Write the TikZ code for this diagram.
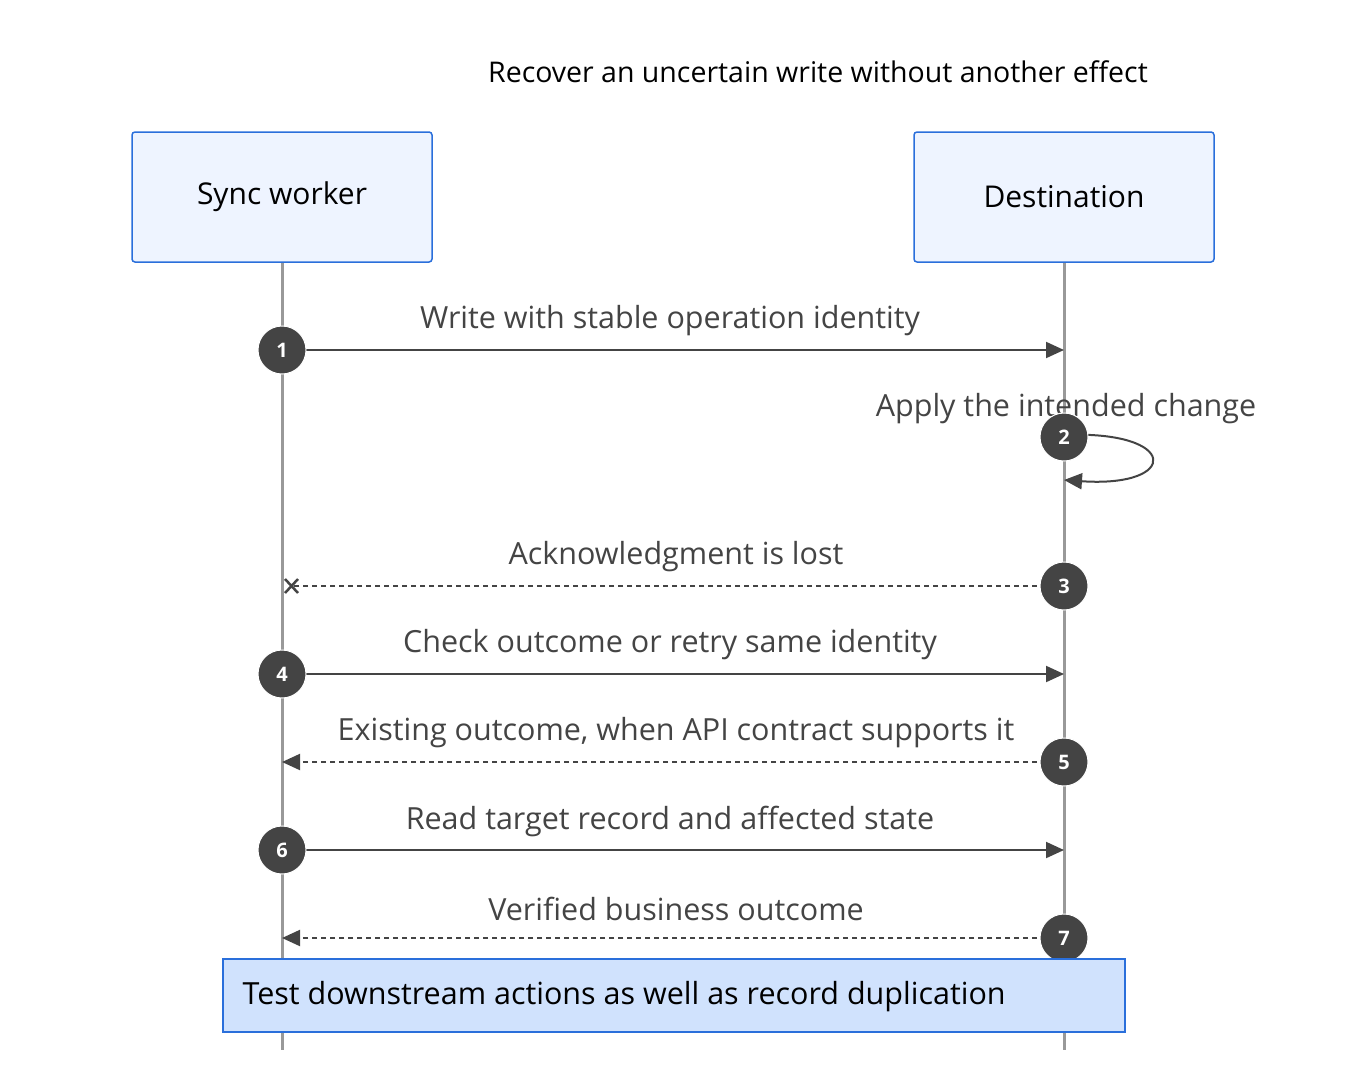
\documentclass[tikz,border=0pt]{standalone}
\usepackage{fontspec}
\setmainfont{Open Sans}
\usetikzlibrary{arrows.meta}
\definecolor{boxfill}{HTML}{EEF4FF}
\definecolor{boxline}{HTML}{2A6FDB}
\definecolor{notefill}{HTML}{D0E2FD}
\definecolor{ink}{HTML}{444444}
\begin{document}
\begin{tikzpicture}[x=1pt,y=-1pt,
  actor/.style={draw=boxline,fill=boxfill,line width=1.5pt,rounded corners=3pt,minimum width=300pt,minimum height=130pt,font=\fontsize{30}{36}\selectfont,text=black},
  life/.style={draw=gray!80,line width=3pt},
  num/.style={circle,fill=ink,draw=white,line width=1pt,minimum size=48pt,inner sep=0pt,text=white,font=\fontsize{20}{24}\selectfont\bfseries},
  msg/.style={draw=ink,line width=2pt,-{Triangle[length=18pt,width=16pt]}},
  dmsg/.style={msg,dash pattern=on 5pt off 4pt},
  lbl/.style={font=\fontsize{30.5}{36}\selectfont,text=ink}]
\useasboundingbox (0,0) rectangle (1370,1084);
\node[font=\fontsize{28.5}{34}\selectfont] (title) at (818,72) {Recover an uncertain write without another effect};
\node[actor] (sw) at (282,197) {Sync worker};
\node[actor] (de) at (1064,197) {Destination};
\coordinate (swb) at (282,1050); \coordinate (deb) at (1064,1050);
\draw[life] (sw.south) -- (swb);
\draw[life] (de.south) -- (deb);
% 1
\coordinate (a1) at (282,350); \coordinate (b1) at (1064,350);
\draw[msg] (a1) -- (b1);
\node[lbl] (l1) at (670,321) {Write with stable operation identity};
\node[num] (n1) at (a1) {1};
% 2
\coordinate (s2) at (1064,435); \coordinate (e2) at (1064,480);
\draw[msg] (s2) .. controls (1180,430) and (1180,488) .. (e2);
\node[lbl] (l2) at (1066,409) {Apply the intended change};
\node[num] (n2) at (1064,437) {2};
% 3
\coordinate (a3) at (1064,586); \coordinate (b3) at (291,586);
\draw[draw=ink,line width=2pt,dash pattern=on 5pt off 4pt] (a3) -- (b3);
\draw[draw=ink,line width=2.5pt] (285,579) -- (298,593) (285,593) -- (298,579);
\node[lbl] (l3) at (676,557) {Acknowledgment is lost};
\node[num] (n3) at (a3) {3};
% 4
\coordinate (a4) at (282,674); \coordinate (b4) at (1064,674);
\draw[msg] (a4) -- (b4);
\node[lbl] (l4) at (670,645) {Check outcome or retry same identity};
\node[num] (n4) at (a4) {4};
% 5
\coordinate (a5) at (1064,762); \coordinate (b5) at (282,762);
\draw[dmsg] (a5) -- (b5);
\node[lbl] (l5) at (676,733) {Existing outcome, when API contract supports it};
\node[num] (n5) at (a5) {5};
% 6
\coordinate (a6) at (282,850); \coordinate (b6) at (1064,850);
\draw[msg] (a6) -- (b6);
\node[lbl] (l6) at (670,821) {Read target record and affected state};
\node[num] (n6) at (a6) {6};
% 7
\coordinate (a7) at (1064,938); \coordinate (b7) at (282,938);
\draw[dmsg] (a7) -- (b7);
\node[lbl] (l7) at (676,909) {Verified business outcome};
\node[num] (n7) at (a7) {7};
% note
\node[draw=boxline,fill=notefill,line width=1.5pt,minimum width=902pt,minimum height=73pt,anchor=north west,inner sep=0pt] (note) at (222,958) {};
\node[anchor=west,font=\fontsize{30.5}{36}\selectfont,text=black] (nt) at (239,997) {Test downstream actions as well as record duplication};
\end{tikzpicture}
\end{document}
